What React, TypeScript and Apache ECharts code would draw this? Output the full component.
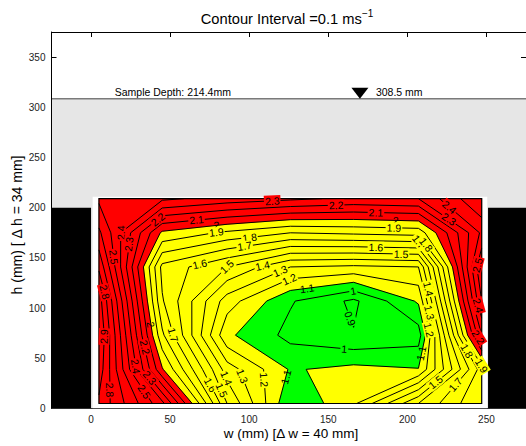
import { useEffect, useRef } from "react";
import * as echarts from "echarts";

const FONT = '"Liberation Sans", Arial, Helvetica, sans-serif';

// Measurement grid (mm)
const W_NODES = [5, 45, 86, 126, 166, 207, 247];
const H_NODES = [5, 39, 73, 107, 141, 175, 209];

// Measured speed (m/s) at each node, one row per height, listed bottom to top
const SPEED_H5 = [2.88, 2.43, 1.5, 1.01, 1.18, 1.6, 1.9];
const SPEED_H39 = [2.96, 2.01, 1.35, 1.09, 1.13, 1.105, 1.85];
const SPEED_H73 = [3.0, 1.82, 1.12, 0.97, 0.906, 0.95, 2.3];
const SPEED_H107 = [2.95, 1.71, 1.25, 1.01, 0.88, 1.115, 2.5];
const SPEED_H141 = [2.78, 1.67, 1.5, 1.3, 1.28, 1.3, 2.6];
const SPEED_H175 = [2.62, 1.98, 1.88, 1.8, 1.82, 1.84, 2.42];
const SPEED_H209 = [2.48, 2.42, 2.36, 2.32, 2.28, 2.3, 2.6];
const SPEED_ROWS = [SPEED_H5, SPEED_H39, SPEED_H73, SPEED_H107, SPEED_H141, SPEED_H175, SPEED_H209];

const CONTOUR_LEVELS = [0.9, 1.0, 1.1, 1.2, 1.3, 1.4, 1.5, 1.6, 1.7, 1.8, 1.9, 2.0, 2.1, 2.2, 2.3, 2.4, 2.5, 2.6, 2.7, 2.8, 2.9, 3.0];
const SLOW_LIMIT = 1.1; // green below
const FAST_LIMIT = 2.0; // red above

// Inline contour labels: [level, w, h] near where each label sits
const LABEL_SPOTS: [number, number, number][] = [
  [2.4, 13.7, 179.8], [2.3, 18.2, 164.8], [2.5, 8.7, 149.8], [2.8, 8.7, 116],
  [2.2, 42, 188.7], [2.1, 66.7, 187.7], [2.0, 79.3, 183.7], [1.9, 79.3, 174.8],
  [1.8, 100, 172.8], [1.7, 97, 162.8], [1.6, 68.6, 144.9], [1.5, 85.6, 141.9],
  [1.4, 108.3, 142.9], [1.3, 119, 138.9], [1.2, 125.3, 129], [1.1, 136.6, 120],
  [2.3, 114.6, 205.7], [2.2, 155, 199.7], [2.1, 180.1, 192.7], [2.0, 192.7, 185.7],
  [1.9, 191.5, 179.8], [1.6, 180.1, 159.9], [1.5, 195.9, 147.9], [1.7, 207.2, 165.8],
  [1.8, 209.1, 159.9], [2.4, 226.1, 199.7], [2.3, 225.5, 186.7], [2.5, 238.7, 144.9],
  [1.4, 210.4, 118], [1.0, 165.6, 118], [0.9, 164.4, 90], [1.3, 212.3, 95.1],
  [1.2, 213.5, 78.2], [1.1, 209.1, 54.9], [1.0, 160, 57.3], [2.4, 238.7, 100],
  [2.2, 240, 66.3], [1.8, 229.3, 49.9], [1.9, 240, 33.4], [1.7, 229.3, 25.4],
  [1.5, 216.7, 28.4], [2.8, 10.6, 18.4], [2.9, 15, 71.2], [2.4, 25.7, 41.3],
  [2.2, 32, 60.3], [2.0, 35.8, 83.2], [1.7, 51.6, 73.2], [2.3, 35.2, 28.4],
  [2.5, 37, 20.4], [1.6, 74.9, 23], [1.5, 79.9, 16.4], [1.4, 83, 28.4],
  [1.3, 92.5, 30.4], [1.2, 107.7, 28.4], [1.1, 123.4, 31.4],
];

// Flume geometry (mm)
const W_RANGE = [-25, 275];
const H_RANGE = [0, 375];
const X_TICKS = [0, 50, 100, 150, 200, 250];
const Y_TICKS = [0, 50, 100, 150, 200, 250, 300, 350];
const WATER_DEPTH = 308.5;
const SAMPLE_DEPTH = 214.4;
const SURFACE_MARK_W = 170;
const WALL_TOP = 200;
const LEFT_WALL = [-25, 0];
const RIGHT_WALL = [251, 275];
const SAMPLE_BOX = [1, 250.5, 0, 211]; // w0, w1, h0, h1

const RED = "#ff0000";
const YELLOW = "#ffff00";
const GREEN = "#00ff00";

type Node = [number, number, number];

function cellQuads(): Node[][] {
  const quads: Node[][] = [];
  for (let j = 0; j < H_NODES.length - 1; j++) {
    for (let i = 0; i < W_NODES.length - 1; i++) {
      quads.push([
        [W_NODES[i], H_NODES[j], SPEED_ROWS[j][i]],
        [W_NODES[i + 1], H_NODES[j], SPEED_ROWS[j][i + 1]],
        [W_NODES[i + 1], H_NODES[j + 1], SPEED_ROWS[j + 1][i + 1]],
        [W_NODES[i], H_NODES[j + 1], SPEED_ROWS[j + 1][i]],
      ]);
    }
  }
  return quads;
}

function lerpNode(a: Node, b: Node, level: number): Node {
  const t = (level - a[2]) / (b[2] - a[2]);
  return [a[0] + t * (b[0] - a[0]), a[1] + t * (b[1] - a[1]), level];
}

// Keep the part of a cell where speed is above (or below) a level
function clipCell(poly: Node[], level: number, above: boolean): Node[] {
  const out: Node[] = [];
  const inside = (n: Node) => (above ? n[2] >= level : n[2] <= level);
  for (let k = 0; k < poly.length; k++) {
    const a = poly[k];
    const b = poly[(k + 1) % poly.length];
    if (inside(a)) out.push(a);
    if (inside(a) !== inside(b)) out.push(lerpNode(a, b, level));
  }
  return out;
}

function isoSegments(quad: Node[], level: number): [Node, Node][] {
  const pts: Node[] = [];
  for (let k = 0; k < 4; k++) {
    const a = quad[k];
    const b = quad[(k + 1) % 4];
    if ((a[2] >= level) !== (b[2] >= level)) pts.push(lerpNode(a, b, level));
  }
  if (pts.length === 2) return [[pts[0], pts[1]]];
  if (pts.length === 4) {
    return quad[0][2] >= level
      ? [[pts[0], pts[1]], [pts[2], pts[3]]]
      : [[pts[1], pts[2]], [pts[3], pts[0]]];
  }
  return [];
}

function labelText(level: number) {
  return String(Number(level.toFixed(1)));
}

function labelBackground(level: number) {
  if (level > FAST_LIMIT + 1e-9) return RED;
  if (level < SLOW_LIMIT - 1e-9) return GREEN;
  if (level > SLOW_LIMIT + 1e-9 && level < FAST_LIMIT - 1e-9) return YELLOW;
  return "transparent";
}

function renderScene(_params: any, api: any) {
  const pt = (w: number, h: number): number[] => api.coord([w, h]);
  const f = (v: number) => v.toFixed(2);
  const rectOf = (w0: number, w1: number, h0: number, h1: number, style: any) => {
    const a = pt(w0, h1);
    const b = pt(w1, h0);
    return { type: "rect", shape: { x: a[0], y: a[1], width: b[0] - a[0], height: b[1] - a[1] }, style };
  };
  const children: any[] = [];

  // water body and free surface
  children.push(rectOf(W_RANGE[0], W_RANGE[1], H_RANGE[0], WATER_DEPTH, { fill: "#e6e6e6" }));
  const s0 = pt(W_RANGE[0], WATER_DEPTH);
  const s1 = pt(W_RANGE[1], WATER_DEPTH);
  children.push({ type: "line", shape: { x1: s0[0], y1: s0[1], x2: s1[0], y2: s1[1] }, style: { stroke: "#7a7a7a", lineWidth: 1.5 } });

  // side walls
  children.push(rectOf(LEFT_WALL[0], LEFT_WALL[1], 0, WALL_TOP, { fill: "#000" }));
  children.push(rectOf(RIGHT_WALL[0], RIGHT_WALL[1], 0, WALL_TOP, { fill: "#000" }));

  // sampled section
  children.push(rectOf(SAMPLE_BOX[0], SAMPLE_BOX[1], SAMPLE_BOX[2], SAMPLE_BOX[3], { fill: "#fff" }));
  const wMin = W_NODES[0];
  const wMax = W_NODES[W_NODES.length - 1];
  const hMin = H_NODES[0];
  const hMax = H_NODES[H_NODES.length - 1];
  children.push(rectOf(wMin, wMax, hMin, hMax, { fill: YELLOW }));

  const quads = cellQuads();
  const polyPath = (polys: Node[][]) =>
    polys
      .filter((p) => p.length >= 3)
      .map((p) => p.map((n, k) => { const c = pt(n[0], n[1]); return (k ? "L" : "M") + f(c[0]) + " " + f(c[1]); }).join("") + "Z")
      .join("");
  const redPath = polyPath(quads.map((q) => clipCell(q, FAST_LIMIT, true)));
  const greenPath = polyPath(quads.map((q) => clipCell(q, SLOW_LIMIT, false)));
  if (redPath) children.push({ type: "path", shape: { pathData: redPath }, style: { fill: RED, stroke: RED, lineWidth: 0.4 } });
  if (greenPath) children.push({ type: "path", shape: { pathData: greenPath }, style: { fill: GREEN, stroke: GREEN, lineWidth: 0.4 } });

  // contour lines
  const segsByLevel = new Map<number, number[][][]>();
  let linePath = "";
  for (const level of CONTOUR_LEVELS) {
    const segs: number[][][] = [];
    for (const q of quads) {
      for (const [a, b] of isoSegments(q, level)) {
        const pa = pt(a[0], a[1]);
        const pb = pt(b[0], b[1]);
        segs.push([pa, pb]);
        linePath += "M" + f(pa[0]) + " " + f(pa[1]) + "L" + f(pb[0]) + " " + f(pb[1]);
      }
    }
    segsByLevel.set(level, segs);
  }
  children.push({ type: "path", shape: { pathData: linePath }, style: { fill: "none", stroke: "#000", lineWidth: 1 } });

  // outline of the sampled grid
  children.push(rectOf(wMin, wMax, hMin, hMax, { fill: "none", stroke: "#000", lineWidth: 1.2 }));

  // inline labels snapped onto their contour
  for (const [level, w, h] of LABEL_SPOTS) {
    const key = CONTOUR_LEVELS.find((l) => Math.abs(l - level) < 1e-6);
    if (key === undefined) continue;
    const segs = segsByLevel.get(key) || [];
    const p = pt(w, h);
    let best: any = null;
    for (const [a, b] of segs) {
      const dx = b[0] - a[0];
      const dy = b[1] - a[1];
      const len2 = dx * dx + dy * dy;
      if (len2 < 1e-6) continue;
      let t = ((p[0] - a[0]) * dx + (p[1] - a[1]) * dy) / len2;
      t = Math.max(0, Math.min(1, t));
      const qx = a[0] + t * dx;
      const qy = a[1] + t * dy;
      const d = Math.hypot(p[0] - qx, p[1] - qy);
      if (!best || d < best.d) best = { d, qx, qy, dx, dy };
    }
    if (!best || best.d > 18) continue;
    let ang = Math.atan2(-best.dy, best.dx);
    if (ang > Math.PI / 2) ang -= Math.PI;
    if (ang < -Math.PI / 2) ang += Math.PI;
    children.push({
      type: "text",
      x: best.qx,
      y: best.qy,
      rotation: ang,
      style: {
        text: labelText(level),
        fontSize: 10.5,
        fontFamily: FONT,
        fill: "#000",
        align: "center",
        verticalAlign: "middle",
        backgroundColor: labelBackground(level),
        padding: [0, 1],
      },
    });
  }

  // frame lines that the patches would hide
  const l0 = pt(W_RANGE[0], H_RANGE[0]);
  const l1 = pt(W_RANGE[0], H_RANGE[1]);
  children.push({ type: "line", shape: { x1: l0[0], y1: l0[1], x2: l1[0], y2: l1[1] }, style: { stroke: "#000", lineWidth: 1 } });
  const b1 = pt(W_RANGE[1], H_RANGE[0]);
  children.push({ type: "line", shape: { x1: l0[0], y1: l0[1], x2: b1[0], y2: b1[1] }, style: { stroke: "#333", lineWidth: 1 } });

  // free-surface marker and depth notes
  const m = pt(SURFACE_MARK_W, WATER_DEPTH);
  children.push({
    type: "polygon",
    shape: { points: [[m[0], m[1]], [m[0] - 8.5, m[1] - 11], [m[0] + 8.5, m[1] - 11]] },
    style: { fill: "#000" },
  });
  children.push({
    type: "text",
    x: m[0] + 16,
    y: m[1] - 7,
    style: { text: WATER_DEPTH.toFixed(1) + " mm", fontSize: 10.5, fontFamily: FONT, fill: "#000", align: "left", verticalAlign: "middle" },
  });
  const sd = pt(15, WATER_DEPTH);
  children.push({
    type: "text",
    x: sd[0],
    y: sd[1] - 7,
    style: { text: "Sample Depth: " + SAMPLE_DEPTH.toFixed(1) + "mm", fontSize: 10.5, fontFamily: FONT, fill: "#000", align: "left", verticalAlign: "middle" },
  });

  return { type: "group", children };
}

function axisBase(ticks: number[], range: number[], position: string, showLabels: boolean) {
  return {
    type: "value",
    position,
    min: range[0],
    max: range[1],
    axisLine: { show: true, onZero: false, lineStyle: { color: "#000", width: 1 } },
    axisTick: { show: true, inside: true, length: 5, customValues: ticks, lineStyle: { color: "#000", width: 1 } },
    axisLabel: {
      show: showLabels,
      customValues: ticks,
      fontSize: 10,
      fontFamily: FONT,
      color: "#222",
      margin: 6,
    },
    splitLine: { show: false },
  };
}

function buildOption(): any {
  return {
    animation: false,
    backgroundColor: "#fff",
    grid: { left: 51.5, right: -1.5, top: 32, bottom: 37.5, containLabel: false },
    xAxis: [axisBase(X_TICKS, W_RANGE, "bottom", true), axisBase(X_TICKS, W_RANGE, "top", false)],
    yAxis: [axisBase(Y_TICKS, H_RANGE, "left", true), axisBase(Y_TICKS, H_RANGE, "right", false)],
    graphic: [
      {
        type: "text",
        x: 287,
        y: 19,
        style: {
          text: "{m|Contour Interval =0.1 ms}{s|\u22121}",
          align: "center",
          verticalAlign: "middle",
          fill: "#000",
          rich: {
            m: { fontSize: 14.7, fontFamily: FONT, lineHeight: 22, fill: "#000" },
            s: { fontSize: 10, fontFamily: FONT, lineHeight: 10, verticalAlign: "top", fill: "#000" },
          },
        },
      },
      {
        type: "text",
        x: 291,
        y: 433,
        style: { text: "w (mm) [\u0394 w = 40 mm]", fontSize: 13.5, fontFamily: FONT, fill: "#000", align: "center", verticalAlign: "middle" },
      },
      {
        type: "text",
        x: 17,
        y: 225,
        rotation: Math.PI / 2,
        style: { text: "h (mm) [ \u0394 h = 34 mm]", fontSize: 14, fontFamily: FONT, fill: "#000", align: "center", verticalAlign: "middle" },
      },
    ],
    series: [
      {
        type: "custom",
        coordinateSystem: "cartesian2d",
        xAxisIndex: 0,
        yAxisIndex: 0,
        silent: true,
        clip: true,
        data: [[0, 0]],
        renderItem: renderScene,
      },
    ],
  };
}

export default function App() {
  const ref = useRef<HTMLDivElement>(null);
  useEffect(() => {
    const chart = echarts.init(ref.current!, undefined, { renderer: "svg" });
    chart.setOption(buildOption());
    return () => chart.dispose();
  }, []);
  return (
    <div
      ref={ref}
      style={{ position: "fixed", left: 0, top: 0, width: 526, height: 446, background: "#fff" }}
    />
  );
}
